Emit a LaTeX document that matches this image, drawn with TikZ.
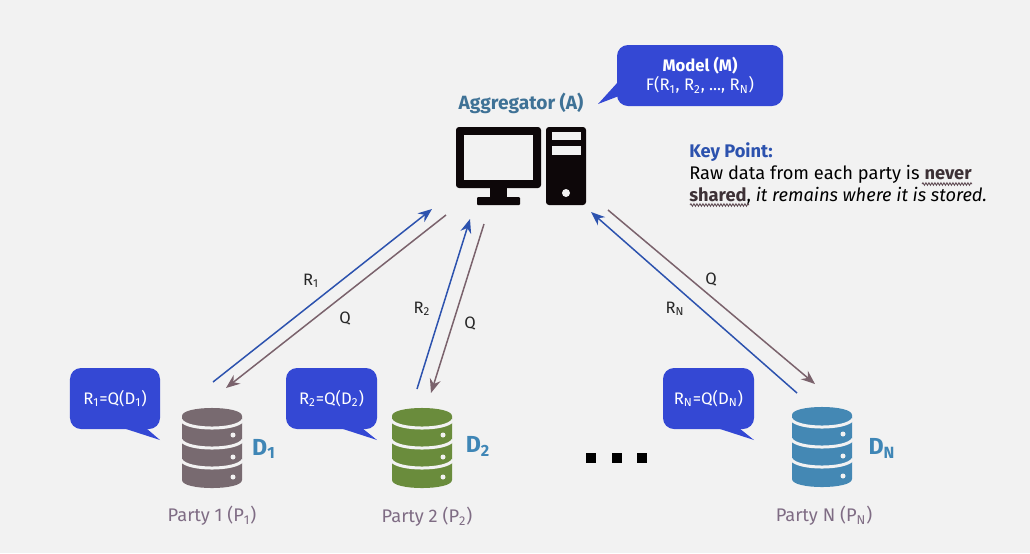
\documentclass[tikz,border=0pt]{standalone}
\usepackage{fontspec}
\setmainfont{Fira Sans}
\usepackage{tikz}
\usetikzlibrary{positioning,arrows.meta,calc,decorations.pathmorphing}
\definecolor{pagec}{HTML}{F2F2F2}
\definecolor{bubblec}{HTML}{3448D4}
\definecolor{replyc}{HTML}{2C52AE}
\definecolor{queryc}{HTML}{7A626C}
\definecolor{partyc}{HTML}{7F6C84}
\definecolor{labelc}{HTML}{3F86B6}
\definecolor{aggc}{HTML}{3F7296}
\definecolor{dbgrey}{HTML}{786A70}
\definecolor{dbgreen}{HTML}{6A8C3C}
\definecolor{dbblue}{HTML}{4488B4}
\definecolor{boxc}{HTML}{0D0709}

\begin{document}
\begin{tikzpicture}[
  x=0.2mm, y=-0.2mm,
  >={Stealth[length=2.8mm,width=2.2mm]},
  bubble/.style={rectangle, rounded corners=2.2mm, fill=bubblec, text=white, inner sep=0pt,
                 align=center, font=\fontsize{9.5}{11}\selectfont},
  reply/.style={->, replyc, line width=0.85pt},
  query/.style={->, queryc, line width=0.85pt},
  flow/.style={font=\fontsize{9.4}{10}\selectfont, text=black!85},
  party/.style={font=\fontsize{10.4}{11}\selectfont, text=partyc},
  dbname/.style={font=\fontsize{13.2}{14}\selectfont\bfseries, text=labelc},
  dbnode/.style={rectangle, minimum width=12mm, minimum height=16mm, inner sep=0pt},
  dotbox/.style={rectangle, fill=black, minimum size=2.1mm, inner sep=0pt},
  squiggle/.style={queryc!80!black, line width=0.5pt, decorate,
                   decoration={snake, amplitude=0.25mm, segment length=0.6mm}}
]
\fill[pagec] (0,0) rectangle (1030,553);
\useasboundingbox (0,0) rectangle (1030,553);

% aggregator computer
\node[rectangle, minimum width=26mm, minimum height=15.6mm, inner sep=0pt] (agg) at (521,166) {};
\fill[boxc, rounded corners=0.6mm] (456,127) rectangle (541,188);
\fill[pagec] (464,135) rectangle (533,180);
\fill[boxc] (490,188) rectangle (507,198);
\fill[boxc, rounded corners=0.2mm] (477,197) rectangle (520,205);
\fill[boxc, rounded corners=0.6mm] (546,127) rectangle (586,205);
\fill[pagec] (552,132) rectangle (581,140);
\fill[pagec] (552,146) rectangle (581,155);
\fill[pagec] (566,193) circle (4);
\node[font=\fontsize{10.9}{12}\selectfont\bfseries, text=aggc] (aggname) at (521,103) {Aggregator (A)};

% model bubble
\node[bubble, minimum width=33.2mm, minimum height=12.2mm] (model) at (700,75.5)
  {\textbf{Model (M)}\\F(R\textsubscript{1}, R\textsubscript{2}, ..., R\textsubscript{N})};
\fill[bubblec] (618,82) -- (598,104) -- (619,96) -- cycle;

% key point
\node[anchor=north west, align=left, inner sep=0pt, font=\fontsize{10.4}{12.5}\selectfont] (keypt) at (689,142)
  {\textcolor{replyc}{\textbf{Key Point:}}\\
   Raw data from each party is \textbf{\textcolor{queryc!50!black}{never}}\\
   \textbf{\textcolor{queryc!50!black}{shared}}, \textit{it remains where it is stored.}};
\coordinate (wava) at (922,184);  \coordinate (wavb) at (972,184);
\coordinate (wavc) at (690,205);  \coordinate (wavd) at (749,205);
\draw[squiggle] (wava) -- (wavb);
\draw[squiggle] (wavc) -- (wavd);

% the three parties
\foreach \id/\xx/\yy/\col/\sub/\lx/\ly in {1/212/408/dbgrey/1/264/449, 2/422/408/dbgreen/2/478/446, N/822/407/dbblue/N/882/448}{
  \begin{scope}[shift={(\xx,\yy)}]
    \node[dbnode] (db\id) at (0,40) {};
    \fill[\col] (-30,8) .. controls (-30,-2.7) and (30,-2.7) .. (30,8) -- (30,72)
      .. controls (30,82.7) and (-30,82.7) .. (-30,72) -- cycle;
    \foreach \by in {12,32,52}{
      \draw[pagec, line width=0.6mm] (-31,\by) .. controls (-25,\by+10.7) and (25,\by+10.7) .. (31,\by);}
    \foreach \dy in {27,49,69}{
      \fill[pagec] (21,\dy) circle (2.5);}
  \end{scope}
  \node[dbname] (dname\id) at (\lx,\ly) {D\textsubscript{\sub}};
}
\node[party] (party1) at (212,516) {Party 1 (P\textsubscript{1})};
\node[party] (party2) at (427,517) {Party 2 (P\textsubscript{2})};
\node[party] (partyN) at (824,516) {Party N (P\textsubscript{N})};

% result bubbles
\node[bubble, minimum width=18mm, minimum height=12.2mm] (res1) at (115,398.5) {R\textsubscript{1}=Q(D\textsubscript{1})};
\fill[bubblec] (123,428) -- (160,440) -- (146,428) -- cycle;
\node[bubble, minimum width=18.2mm, minimum height=12.2mm] (res2) at (331.5,398.5) {R\textsubscript{2}=Q(D\textsubscript{2})};
\fill[bubblec] (340,428) -- (377,440) -- (362,428) -- cycle;
\node[bubble, minimum width=18.2mm, minimum height=12.2mm] (resN) at (708.5,398.5) {R\textsubscript{N}=Q(D\textsubscript{N})};
\fill[bubblec] (717,428) -- (754,440) -- (739,428) -- cycle;

% ends of the arrows
\coordinate (r1a) at (213,382);  \coordinate (r1b) at (432,209);
\coordinate (q1a) at (446,215);  \coordinate (q1b) at (226,388);
\coordinate (r2a) at (417,389);  \coordinate (r2b) at (470,219);
\coordinate (q2a) at (484,224);  \coordinate (q2b) at (431,393);
\coordinate (rNa) at (797,393);  \coordinate (rNb) at (591,212);
\coordinate (qNa) at (608,210);  \coordinate (qNb) at (815,384);
\draw[reply] (r1a) -- (r1b);
\draw[query] (q1a) -- (q1b);
\draw[reply] (r2a) -- (r2b);
\draw[query] (q2a) -- (q2b);
\draw[reply] (rNa) -- (rNb);
\draw[query] (qNa) -- (qNb);

\node[flow] (lr1) at (311,281) {R\textsubscript{1}};
\node[flow] (lq1) at (345,319) {Q};
\node[flow] (lr2) at (422,309) {R\textsubscript{2}};
\node[flow] (lq2) at (470,324) {Q};
\node[flow] (lqN) at (711,280) {Q};
\node[flow] (lrN) at (675,309) {R\textsubscript{N}};

% more parties
\foreach \i/\xx in {1/591,2/617,3/642}{
  \node[dotbox] (more\i) at (\xx,458) {};}
\end{tikzpicture}
\end{document}
